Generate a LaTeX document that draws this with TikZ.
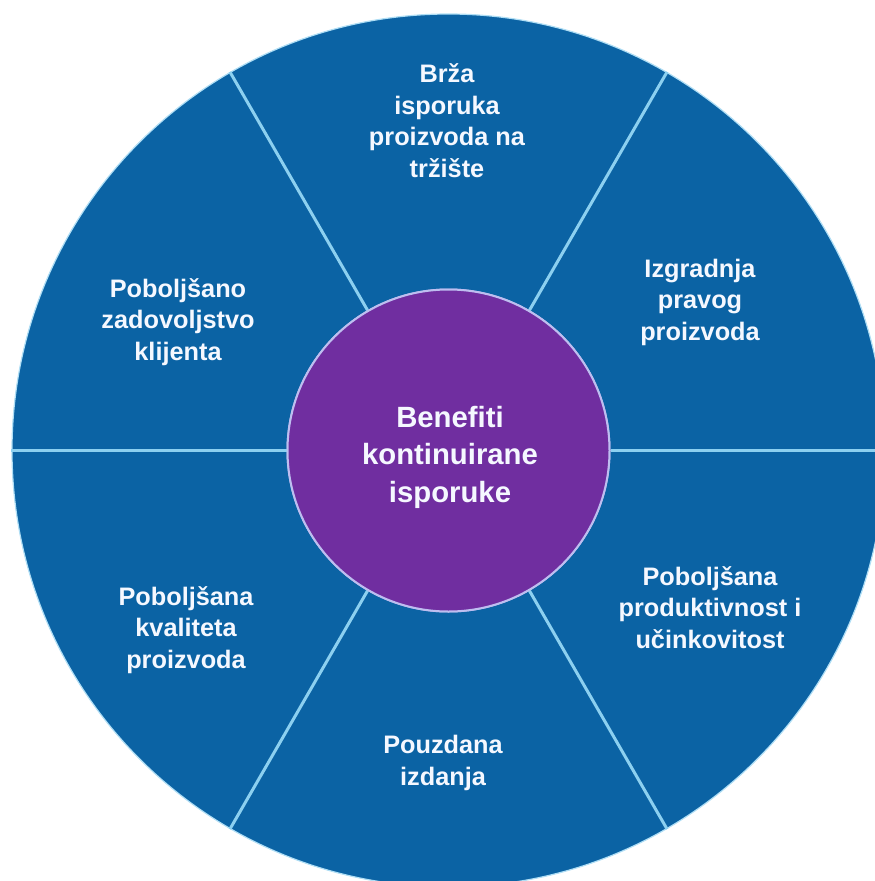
\documentclass[tikz,border=0pt]{standalone}
\usepackage{fontspec}
\setmainfont{Liberation Sans}
\definecolor{wheelblue}{RGB}{11,99,164}
\definecolor{edgeblue}{RGB}{175,222,245}
\definecolor{divblue}{RGB}{140,208,240}
\definecolor{hubpurple}{RGB}{112,46,160}
\definecolor{hubedge}{RGB}{190,190,240}
\definecolor{textwhite}{RGB}{245,248,255}
\begin{document}
\begin{tikzpicture}[x=1pt,y=-1pt,
  wheel/.style={circle, fill=wheelblue, draw=edgeblue, line width=1.2pt, minimum size=873pt, inner sep=0pt},
  hub/.style={circle, fill=hubpurple, draw=hubedge, line width=2pt, minimum size=322pt, inner sep=0pt},
  divider/.style={draw=divblue, line width=3pt},
  seglabel/.style={text=textwhite, font=\bfseries\fontsize{25.3}{31.5}\selectfont, align=center, anchor=base, inner sep=0pt},
  hubtext/.style={text=textwhite, font=\bfseries\fontsize{29.3}{37.5}\selectfont, align=center, anchor=base, inner sep=0pt}]
\useasboundingbox (0,0) rectangle (875,881);
\clip (0,0) rectangle (875,881);
\node[wheel] (wheel) at (448.5,450.5) {};
\node[hub] (hub) at (448.5,450.5) {};
\foreach \a in {0,60,120,180,240,300}
  \draw[divider] (hub.\a) -- (wheel.\a);
\node[hub] (hubtop) at (448.5,450.5) {};
\node[hubtext] (t0) at (450,502) {Benefiti\\kontinuirane\\isporuke};
\node[seglabel] (t1) at (447,177) {Brža\\isporuka\\proizvoda na\\tržište};
\node[seglabel] (t2) at (700,340) {Izgradnja\\pravog\\proizvoda};
\node[seglabel] (t3) at (710,648) {Poboljšana\\produktivnost i\\učinkovitost};
\node[seglabel] (t4) at (443,785) {Pouzdana\\izdanja};
\node[seglabel] (t5) at (186,668) {Poboljšana\\kvaliteta\\proizvoda};
\node[seglabel] (t6) at (178,360) {Poboljšano\\zadovoljstvo\\klijenta};
\end{tikzpicture}
\end{document}
